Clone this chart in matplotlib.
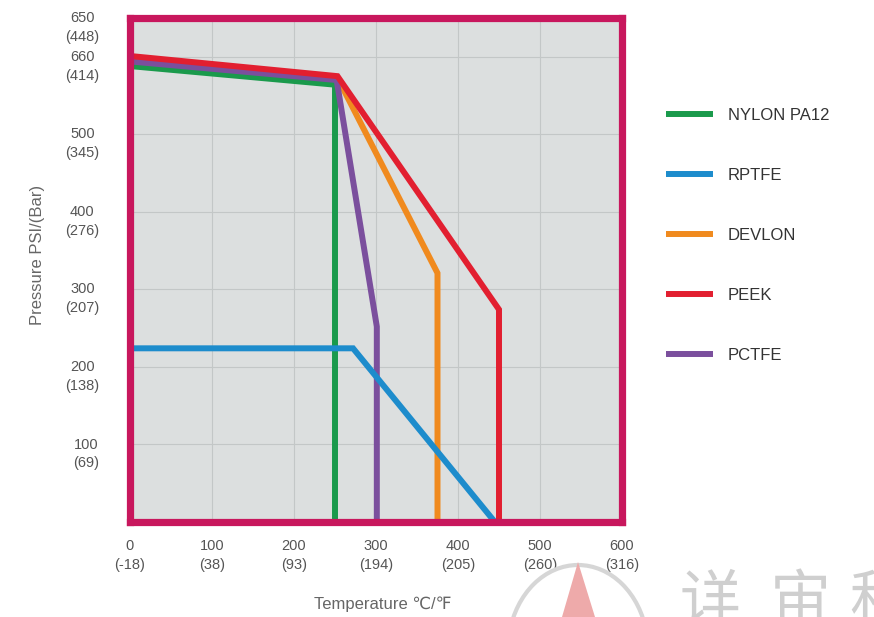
import matplotlib
matplotlib.use("Agg")
import matplotlib.pyplot as plt
from matplotlib.patches import Polygon, Arc
from matplotlib.transforms import ScaledTranslation

plt.rcParams["font.family"] = ["Liberation Sans", "DejaVu Sans"]

# data (temperature, pressure)
nylon_x = [0, 250, 250]
nylon_y = [588, 564, 0]
rptfe_x = [0, 272, 445]
rptfe_y = [224, 224, 0]
devlon_x = [0, 253, 375, 375]
devlon_y = [597, 573, 321, 0]
peek_x = [0, 253, 450, 450]
peek_y = [601, 575, 274, 0]
pctfe_x = [0, 252, 301, 301]
pctfe_y = [594, 570, 252, 0]

x_ticks = [0, 100, 200, 300, 400, 500, 600]
x_labels = ["0\n(-18)", "100\n(38)", "200\n(93)", "300\n(194)",
            "400\n(205)", "500\n(260)", "600\n(316)"]
y_ticks = [100, 200, 300, 400, 500, 600, 650]
y_labels = ["100\n(69)", "200\n(138)", "300\n(207)", "400\n(276)",
            "500\n(345)", "660\n(414)", "650\n(448)"]

series = [
    ("NYLON PA12", nylon_x, nylon_y, "#1a9a4c"),
    ("RPTFE", rptfe_x, rptfe_y, "#1d8ccc"),
    ("DEVLON", devlon_x, devlon_y, "#f08a1e"),
    ("PEEK", peek_x, peek_y, "#e21f30"),
    ("PCTFE", pctfe_x, pctfe_y, "#7b4f9d"),
]
z_order = {"NYLON PA12": 2, "DEVLON": 3, "PCTFE": 4, "RPTFE": 5, "PEEK": 6}

fig = plt.figure(figsize=(8.74, 6.17), dpi=100)
ax = fig.add_axes([130 / 874, 1 - 522 / 617, 492 / 874, 504 / 617])
ax.set_facecolor("#dcdfdf")

for name, xs, ys, color in series:
    ax.plot(xs, ys, color=color, lw=4.3, label=name,
            solid_joinstyle="miter", solid_capstyle="butt", zorder=z_order[name])

ax.set_xlim(0, 600)
ax.set_ylim(0, 650)
ax.set_xticks(x_ticks)
ax.set_xticklabels(x_labels, multialignment="center", linespacing=1.45)
ax.set_yticks(y_ticks)
ax.set_yticklabels(y_labels, multialignment="center", linespacing=1.45)
ax.tick_params(length=0, labelsize=10.5, labelcolor="#555555")
ax.tick_params(axis="x", pad=12)
ax.tick_params(axis="y", pad=22)

# the reference prints the y labels a little below each grid line
shift = ScaledTranslation(0, -4 / 72, fig.dpi_scale_trans)
for lab in ax.get_yticklabels():
    lab.set_transform(lab.get_transform() + shift)

ax.grid(True, color="#c3c7c7", lw=0.8)
ax.set_axisbelow(True)
for sp in ax.spines.values():
    sp.set_color("#c8175d")
    sp.set_linewidth(5.2)
    sp.set_zorder(10)

ax.set_ylabel("Pressure PSI/(Bar)", fontsize=12, color="#666666")
ax.yaxis.set_label_coords(-0.172, 0.53)
ax.set_xlabel("Temperature ℃/℉", fontsize=12, color="#666666")
ax.xaxis.set_label_coords(0.514, -0.148)

leg = ax.legend(loc="upper left", bbox_to_anchor=(651 / 874, 1 - 93 / 617),
                bbox_transform=fig.transFigure, frameon=False, fontsize=12,
                handlelength=2.8, handletextpad=0.9, labelspacing=2.7)
for t in leg.get_texts():
    t.set_color("#333333")

# watermark in the lower right corner
fig.patches.append(Arc((578 / 874, 1 - 650 / 617), 140 / 874, 170 / 617,
                       theta1=20, theta2=160, color="#d6d6d6", lw=3,
                       transform=fig.transFigure))
fig.patches.append(Polygon([(578 / 874, 1 - 562 / 617), (562 / 874, 0), (595 / 874, 0)],
                           closed=True, facecolor="#eeaaaa", edgecolor="none",
                           transform=fig.transFigure))
for ch, px in zip("详宙科", [710, 800, 880]):
    fig.text(px / 874, 1 - 603 / 617, ch, fontsize=44, color="#cfcfcf",
             ha="center", va="center", family=["Noto Sans CJK SC", "DejaVu Sans"])

fig.savefig("out.png", dpi=100)
